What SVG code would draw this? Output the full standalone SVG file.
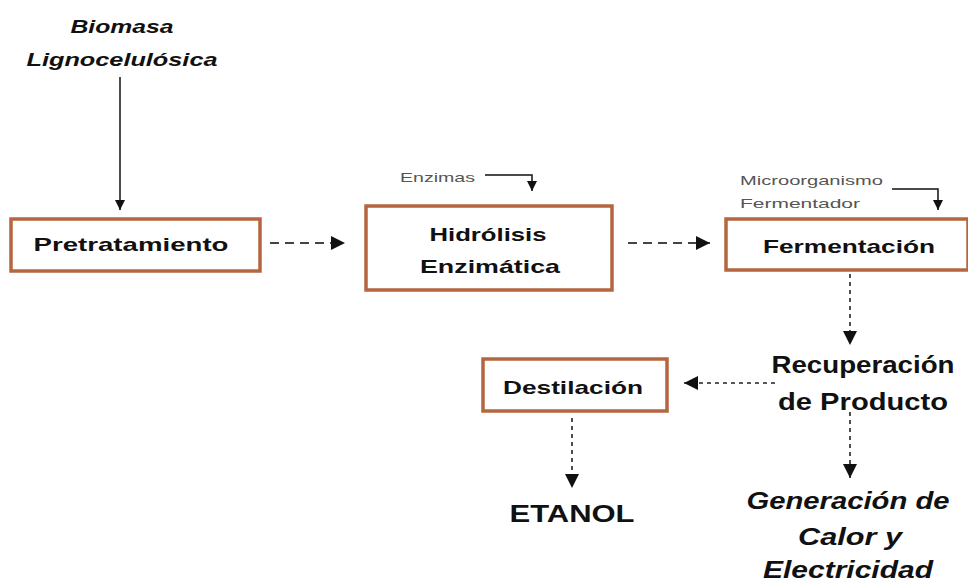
<svg xmlns="http://www.w3.org/2000/svg" width="968" height="583" viewBox="0 0 968 583">
<defs>
<style>
.box{fill:#fff;stroke:#b5653f;stroke-width:3.5}
.t{font-family:"Liberation Sans",Arial,sans-serif;font-weight:bold;fill:#111;text-anchor:middle}
.bt{font-size:19px}
.big{font-size:24px}
.small{font-family:"Liberation Sans",Arial,sans-serif;font-size:13px;fill:#555}
.ln{stroke:#111;stroke-width:1.5;fill:none}
.dash{stroke:#444;stroke-width:2;stroke-dasharray:9 6;fill:none}
.dot{stroke:#222;stroke-width:1.6;stroke-dasharray:4 4;fill:none}
</style>
<marker id="ah" viewBox="0 0 10 10" refX="10" refY="5" markerWidth="10" markerHeight="10" markerUnits="userSpaceOnUse" orient="auto">
<path d="M0,0 L10,5 L0,10 z" fill="#111"/>
</marker>
<marker id="ahb" viewBox="0 0 10 10" refX="10" refY="5" markerWidth="14" markerHeight="14" markerUnits="userSpaceOnUse" orient="auto">
<path d="M0,0 L10,5 L0,10 z" fill="#111"/>
</marker>
</defs>
<rect width="968" height="583" fill="#fff"/>
<g id="biomasa">
<text class="t" x="122" y="33" font-size="18" font-style="italic" textLength="103" lengthAdjust="spacingAndGlyphs">Biomasa</text>
<text class="t" x="122" y="66" font-size="18" font-style="italic" textLength="191" lengthAdjust="spacingAndGlyphs">Lignocelulósica</text>
</g>
<g id="pretratamiento">
<rect class="box" x="11" y="219" width="249" height="52"/>
<text class="t bt" x="131" y="251" textLength="195" lengthAdjust="spacingAndGlyphs">Pretratamiento</text>
</g>
<g id="enzimas">
<text class="small" x="400" y="182" textLength="75" lengthAdjust="spacingAndGlyphs">Enzimas</text>
</g>
<g id="hidrolisis">
<rect class="box" x="366" y="206" width="246" height="84"/>
<text class="t bt" x="488" y="241" textLength="117" lengthAdjust="spacingAndGlyphs">Hidrólisis</text>
<text class="t bt" x="490" y="273" textLength="140" lengthAdjust="spacingAndGlyphs">Enzimática</text>
</g>
<g id="microorganismo">
<text class="small" x="740" y="185" textLength="143" lengthAdjust="spacingAndGlyphs">Microorganismo</text>
<text class="small" x="740" y="208" textLength="120" lengthAdjust="spacingAndGlyphs">Fermentador</text>
</g>
<g id="fermentacion">
<rect class="box" x="726" y="219" width="242" height="51"/>
<text class="t bt" x="849" y="253" textLength="172" lengthAdjust="spacingAndGlyphs">Fermentación</text>
</g>
<g id="recuperacion">
<text class="t big" x="863" y="373" font-weight="normal" textLength="183" lengthAdjust="spacingAndGlyphs">Recuperación</text>
<text class="t big" x="863" y="410" font-weight="normal" textLength="170" lengthAdjust="spacingAndGlyphs">de Producto</text>
</g>
<g id="destilacion">
<rect class="box" x="483" y="359" width="184" height="52"/>
<text class="t bt" x="573" y="394" textLength="140" lengthAdjust="spacingAndGlyphs">Destilación</text>
</g>
<g id="etanol">
<text class="t" x="572" y="522" font-size="24" font-weight="normal" textLength="125" lengthAdjust="spacingAndGlyphs">ETANOL</text>
</g>
<g id="generacion">
<text class="t big" x="848" y="509" font-style="italic" textLength="203" lengthAdjust="spacingAndGlyphs">Generación de</text>
<text class="t big" x="850" y="545" font-style="italic" textLength="104" lengthAdjust="spacingAndGlyphs">Calor y</text>
<text class="t big" x="848" y="578" font-style="italic" textLength="170" lengthAdjust="spacingAndGlyphs">Electricidad</text>
</g>
<g id="connectors">
<line class="ln" x1="120" y1="77" x2="120" y2="210" marker-end="url(#ah)"/>
<path class="ln" d="M485,175 H532 V191" marker-end="url(#ah)"/>
<path class="ln" d="M892,189 H938 V210" marker-end="url(#ah)"/>
<line class="dash" x1="270" y1="243" x2="345" y2="243" marker-end="url(#ahb)"/>
<line class="dash" x1="628" y1="243" x2="710" y2="243" marker-end="url(#ahb)"/>
<line class="dot" x1="850" y1="274" x2="850" y2="345" marker-end="url(#ahb)"/>
<line class="dot" x1="775" y1="383" x2="684" y2="383" marker-end="url(#ahb)"/>
<line class="dot" x1="572" y1="418" x2="572" y2="488" marker-end="url(#ahb)"/>
<line class="dot" x1="850" y1="412" x2="850" y2="478" marker-end="url(#ahb)"/>
</g>
</svg>
